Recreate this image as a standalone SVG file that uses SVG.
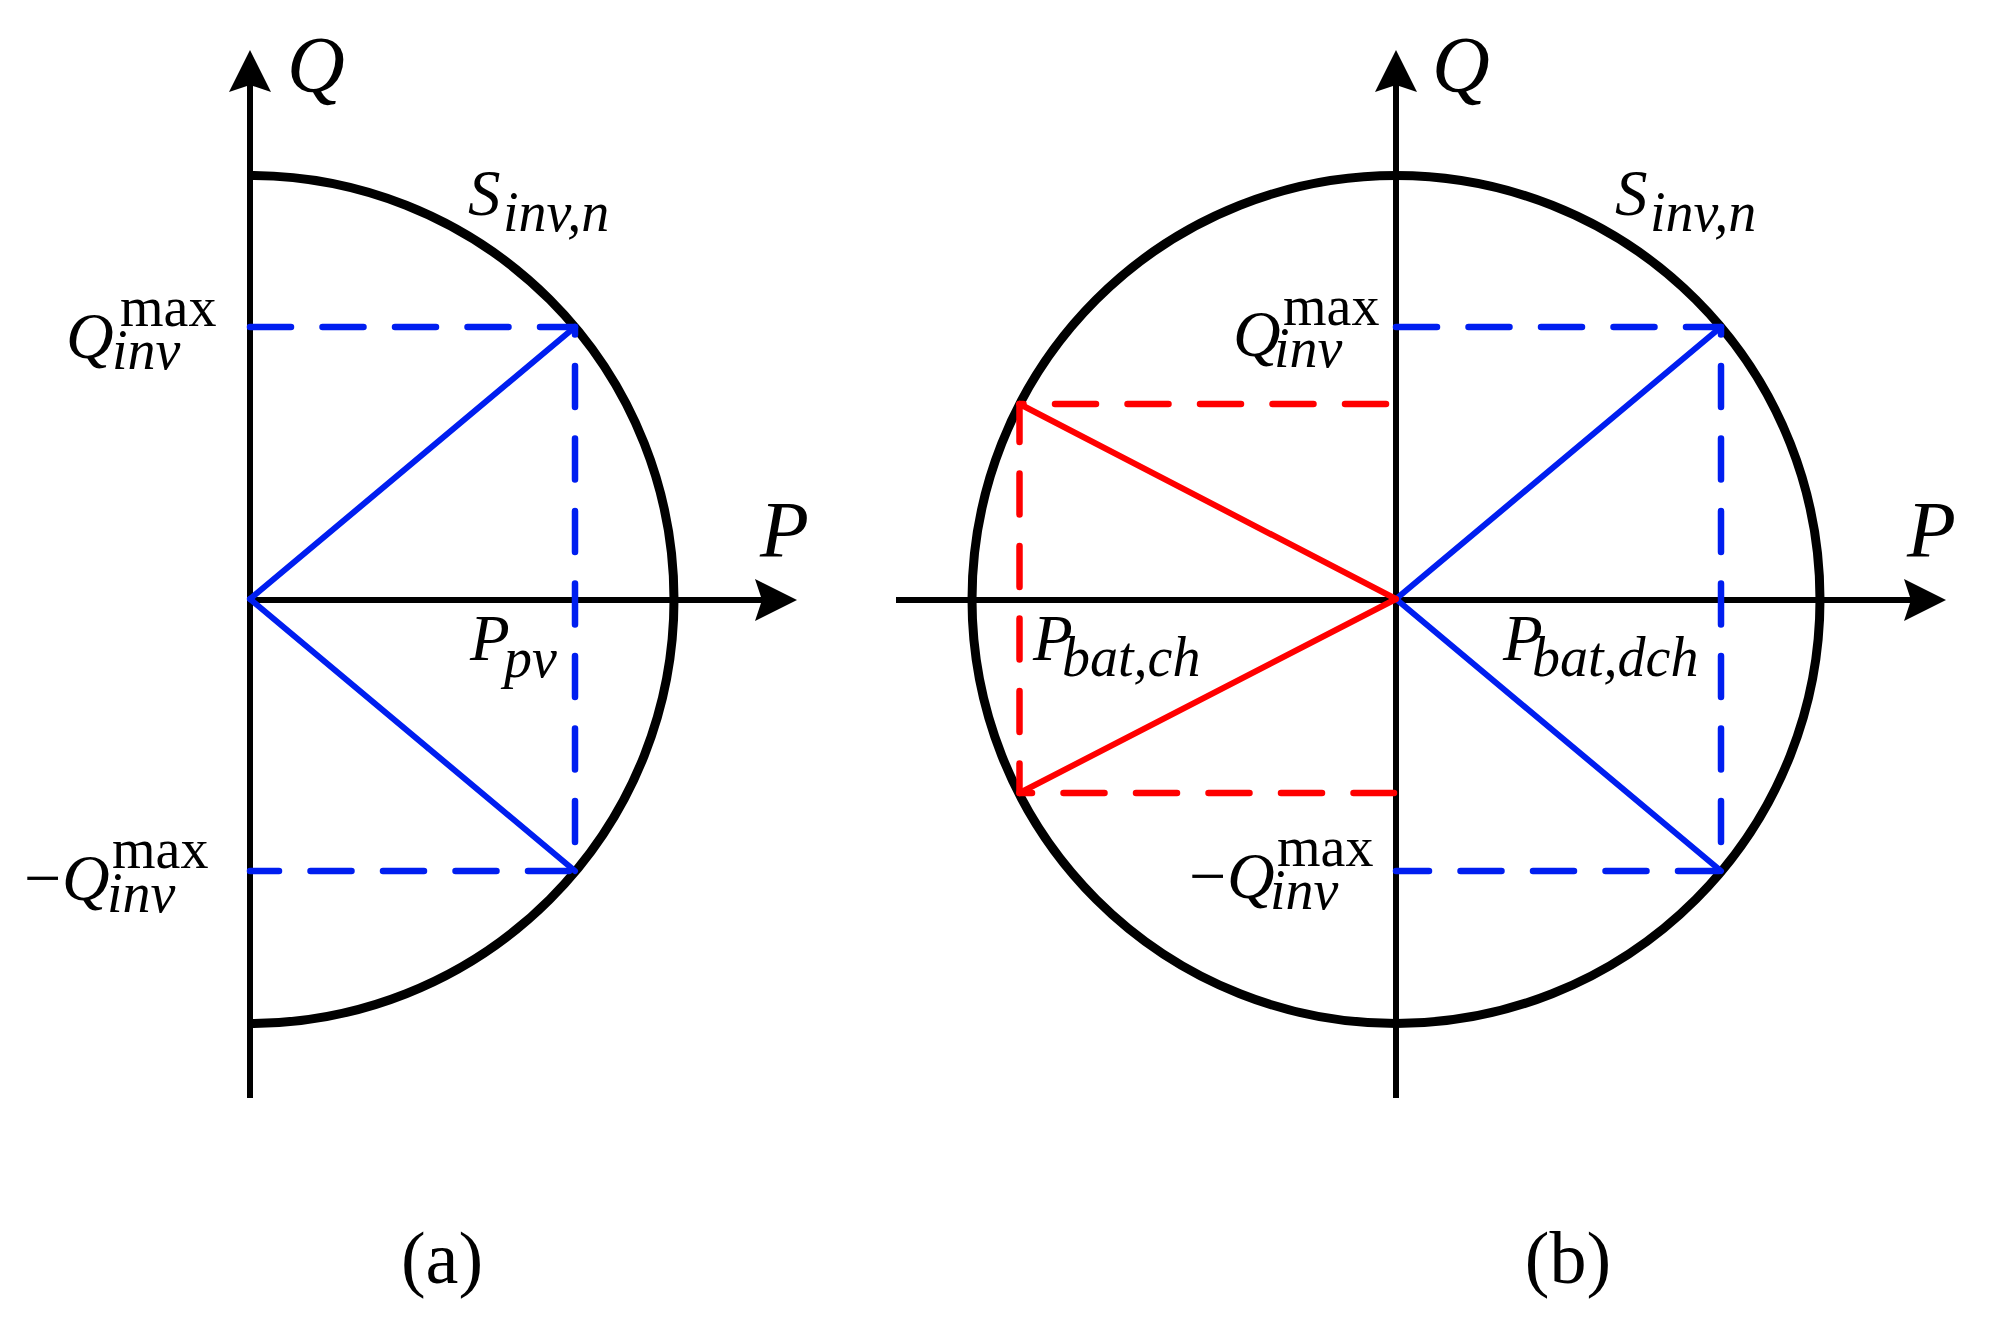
<svg xmlns="http://www.w3.org/2000/svg" width="1994" height="1341" viewBox="0 0 1994 1341">
<style>
.axis{stroke:#000;stroke-width:6;fill:none}
.circ{stroke:#000;stroke-width:9;fill:none}
.bs{stroke:#001EF0;stroke-width:6;fill:none;stroke-linecap:round}
.rs{stroke:#FF0000;stroke-width:6;fill:none;stroke-linecap:round}
.bd{stroke:#001EF0;stroke-width:6.5;fill:none;stroke-linecap:round;stroke-dasharray:41 31.5}
.rd{stroke:#FF0000;stroke-width:6.5;fill:none;stroke-linecap:round;stroke-dasharray:41 31.5}
text{font-family:"Liberation Serif","Times New Roman",serif;fill:#000}
.big{font-size:80px;font-style:italic}
.m{font-size:65px;font-style:italic}
.q{font-size:66px;font-style:italic}
.sub{font-size:56px;font-style:italic}
.up{font-size:56px;font-style:normal}
.minus{font-size:66px;font-style:normal}
.cap{font-size:74px;text-anchor:middle}
</style>
<defs>
<marker id="arr" viewBox="0 0 42 42" refX="7" refY="21" markerWidth="42" markerHeight="42" markerUnits="userSpaceOnUse" orient="auto">
<path d="M0,0 L42,21 L0,42 L7,21 Z" fill="#000"/>
</marker>
</defs>
<g id="connectors">
<line class="axis" x1="250" y1="1098" x2="250" y2="85" marker-end="url(#arr)"/>
<line class="axis" x1="250" y1="600" x2="762" y2="600" marker-end="url(#arr)"/>
<path class="circ" d="M250,175.5 A424,424 0 0 1 250,1023.5"/>
<line class="bs" x1="250" y1="599" x2="575" y2="327"/>
<line class="bs" x1="250" y1="599" x2="575" y2="871"/>
<line class="bd" x1="250" y1="327" x2="575" y2="327"/>
<line class="bd" x1="569" y1="871" x2="250" y2="871"/>
<line class="bd" x1="575" y1="327" x2="575" y2="871" stroke-dashoffset="33.5"/>
<line class="axis" x1="1396" y1="1098" x2="1396" y2="85" marker-end="url(#arr)"/>
<line class="axis" x1="896" y1="600" x2="1911" y2="600" marker-end="url(#arr)"/>
<circle class="circ" cx="1396" cy="599.5" r="424"/>
<line class="bs" x1="1396" y1="599" x2="1721" y2="327"/>
<line class="bs" x1="1396" y1="599" x2="1721" y2="871"/>
<line class="bd" x1="1396" y1="327" x2="1721" y2="327"/>
<line class="bd" x1="1719" y1="871" x2="1396" y2="871"/>
<line class="bd" x1="1721" y1="327" x2="1721" y2="871" stroke-dashoffset="33.5"/>
<line class="rs" x1="1396" y1="599" x2="1019.5" y2="404"/>
<line class="rs" x1="1396" y1="599" x2="1019.5" y2="793"/>
<line class="rd" x1="1386" y1="404" x2="1019.5" y2="404"/>
<line class="rd" x1="1019.5" y1="793" x2="1394" y2="793" stroke-dashoffset="28.5"/>
<line class="rd" x1="1019.5" y1="404" x2="1019.5" y2="793" stroke-dashoffset="3"/>
</g>
<g id="labels-a">
<text class="big" x="287" y="92">Q</text>
<text class="big" x="760" y="557">P</text>
<text class="m" x="468" y="215">S<tspan class="sub" x="503" y="231">inv,n</tspan></text>
<text class="m" x="470" y="660">P<tspan class="sub" x="504" y="677">pv</tspan></text>
<text class="q" x="66" y="358">Q<tspan class="up" x="120" y="326">max</tspan><tspan class="sub" x="112" y="369">inv</tspan></text>
<text class="q" x="24" y="900"><tspan class="minus">−</tspan><tspan x="62">Q</tspan><tspan class="up" x="112" y="868">max</tspan><tspan class="sub" x="107" y="912">inv</tspan></text>
<text class="cap" x="442" y="1283">(a)</text>
</g>
<g id="labels-b">
<text class="big" x="1432" y="92">Q</text>
<text class="big" x="1907" y="557">P</text>
<text class="m" x="1615" y="215">S<tspan class="sub" x="1650" y="231">inv,n</tspan></text>
<text class="q" x="1233" y="356">Q<tspan class="up" x="1283" y="325">max</tspan><tspan class="sub" x="1274" y="367">inv</tspan></text>
<text class="q" x="1189" y="898"><tspan class="minus">−</tspan><tspan x="1227">Q</tspan><tspan class="up" x="1277" y="866">max</tspan><tspan class="sub" x="1270" y="909">inv</tspan></text>
<text class="m" x="1033" y="660">P<tspan class="sub" x="1062" y="676">bat,ch</tspan></text>
<text class="m" x="1503" y="660">P<tspan class="sub" x="1532" y="676">bat,dch</tspan></text>
<text class="cap" x="1568" y="1283">(b)</text>
</g>
</svg>
